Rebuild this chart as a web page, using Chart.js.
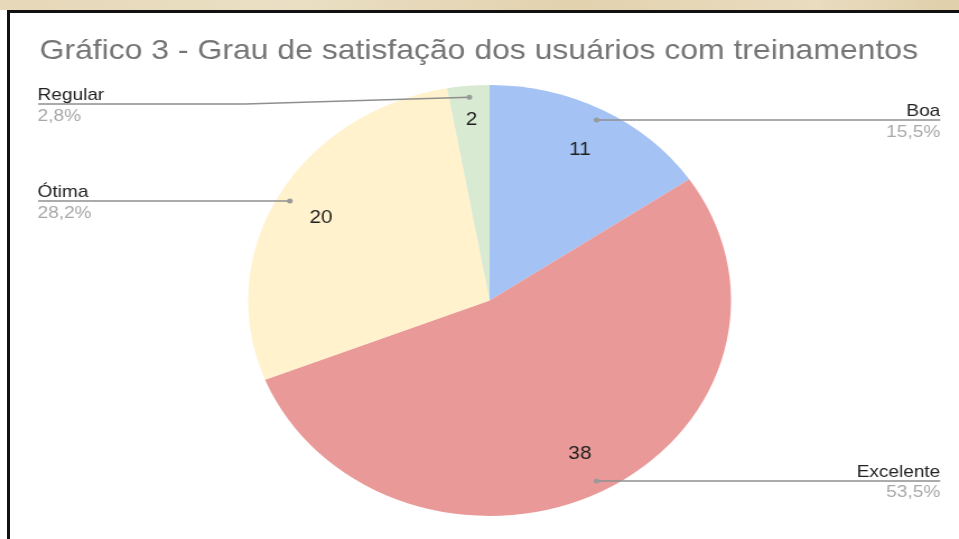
<!DOCTYPE html>
<html><head><meta charset="utf-8">
<script src="https://cdn.jsdelivr.net/npm/chart.js@4.4.0/dist/chart.umd.min.js"></script>
<style>
html,body{margin:0;padding:0;background:#fff;width:959px;height:539px;overflow:hidden;}
#band{position:absolute;left:0;top:0;width:959px;height:10px;background:linear-gradient(90deg,#e6d8b8,#eadfc4 30%,#e2d2ae 60%,#e9dcbf 85%,#dfcfaa);}
#panel{position:absolute;left:7px;top:10px;width:960px;height:540px;border-left:3px solid #111;border-top:3px solid #111;box-sizing:border-box;background:#fff;}
#wrap{position:absolute;left:0;top:0;width:856px;height:539px;transform:scaleX(1.1203);transform-origin:0 0;}
</style></head>
<body>
<div id="band"></div>
<div id="panel"></div>
<div id="wrap"><canvas id="c" width="856" height="539"></canvas></div>
<script>
const chartTitle = 'Gráfico 3 - Grau de satisfação dos usuários com treinamentos';
const categories = ['Boa', 'Excelente', 'Ótima', 'Regular'];
const values = [11, 38, 20, 2];
const colors = ['#a4c2f4', '#ea9999', '#fff2cc', '#d9ead3'];

const FONT = '"Liberation Sans", Arial, sans-serif';
const total = values.reduce((a, b) => a + b, 0);
const pctText = v => (v / total * 100).toFixed(1).replace('.', ',') + '%';

const labelPlugin = {
  id: 'pieLabels',
  afterDatasetsDraw(chart) {
    const ctx = chart.ctx;
    const meta = chart.getDatasetMeta(0);
    ctx.save();
    ctx.font = '28.5px ' + FONT;
    ctx.fillStyle = '#757575';
    ctx.textAlign = 'left';
    ctx.textBaseline = 'alphabetic';
    ctx.fillText(chartTitle, 35.3, 58.5);

    meta.data.forEach((arc, i) => {
      const p = arc.getProps(['x', 'y', 'startAngle', 'endAngle', 'outerRadius'], true);
      const mid = (p.startAngle + p.endAngle) / 2;
      const span = p.endAngle - p.startAngle;
      const vr = p.outerRadius * (span < 0.3 ? 0.85 : 0.8);
      ctx.font = '18.5px ' + FONT;
      ctx.fillStyle = '#1e1e1e';
      ctx.textAlign = 'center';
      ctx.textBaseline = 'middle';
      ctx.fillText(String(values[i]), p.x + Math.cos(mid) * vr, p.y + Math.sin(mid) * vr + 1.5);

      const dr = p.outerRadius * 0.947;
      const dx = p.x + Math.cos(mid) * dr, dy = p.y + Math.sin(mid) * dr;
      const right = Math.cos(mid) >= 0;
      const lx = right ? 839.3 : 34;
      const ly = Math.max(dy, 104);
      ctx.strokeStyle = '#8f8f8f';
      ctx.lineWidth = 1.5;
      ctx.beginPath();
      ctx.moveTo(lx, ly);
      if (Math.abs(ly - dy) > 0.5) ctx.lineTo(right ? dx + 200 : dx - 200, ly);
      ctx.lineTo(dx, dy);
      ctx.stroke();
      ctx.fillStyle = '#9a9a9a';
      ctx.beginPath();
      ctx.arc(dx, dy, 2.5, 0, Math.PI * 2);
      ctx.fill();

      ctx.textAlign = right ? 'right' : 'left';
      ctx.textBaseline = 'alphabetic';
      ctx.font = '17px ' + FONT;
      ctx.fillStyle = '#222';
      ctx.fillText(categories[i], right ? lx : lx - 0.5, ly - 4);
      ctx.fillStyle = '#a8a8a8';
      ctx.fillText(pctText(values[i]), right ? lx : lx - 0.5, ly + 16.5);
    });
    ctx.restore();
  }
};

new Chart(document.getElementById('c'), {
  type: 'pie',
  data: {
    labels: categories,
    datasets: [{ data: values, backgroundColor: colors, borderWidth: 0 }]
  },
  options: {
    responsive: false,
    animation: false,
    devicePixelRatio: 1,
    layout: { padding: { top: 85, bottom: 23, left: 34, right: 16 } },
    plugins: { legend: { display: false }, tooltip: { enabled: false }, title: { display: false } }
  },
  plugins: [labelPlugin]
});
</script>
</body></html>
